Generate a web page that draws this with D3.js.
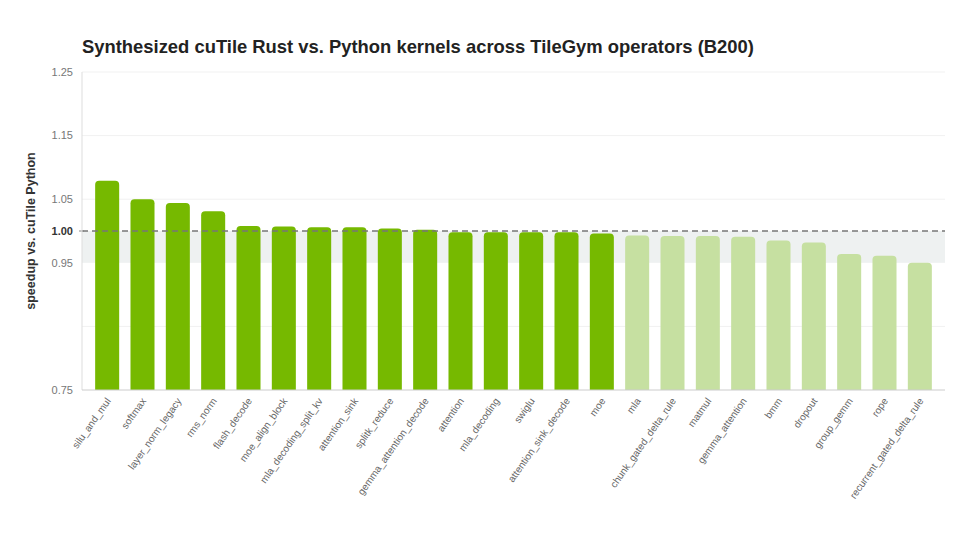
<!DOCTYPE html>
<html>
<head>
<meta charset="utf-8">
<script src="https://cdn.jsdelivr.net/npm/d3@7"></script>
<style>
  body { margin: 0; background: #fff; }
  svg { font-family: "Liberation Sans", Arial, sans-serif; }
</style>
</head>
<body>
<div id="chart"></div>
<script>
var operators = ['silu_and_mul', 'softmax', 'layer_norm_legacy', 'rms_norm', 'flash_decode',
    'moe_align_block', 'mla_decoding_split_kv', 'attention_sink', 'splitk_reduce',
    'gemma_attention_decode', 'attention', 'mla_decoding', 'swiglu', 'attention_sink_decode',
    'moe', 'mla', 'chunk_gated_delta_rule', 'matmul', 'gemma_attention', 'bmm', 'dropout',
    'group_gemm', 'rope', 'recurrent_gated_delta_rule'];
var speedup = [1.079, 1.050, 1.044, 1.031, 1.008, 1.007, 1.006, 1.006, 1.004,
    1.002, 0.998, 0.998, 0.998, 0.998, 0.996, 0.993, 0.992, 0.992, 0.991, 0.985,
    0.982, 0.964, 0.961, 0.950];
var labeledTicks = [0.75, 0.95, 1.00, 1.05, 1.15, 1.25];
var gridTicks = [0.85, 1.05, 1.15, 1.25];

var width = 960, height = 535;
var plotLeft = 82, plotRight = 945, plotTop = 72, plotBottom = 390;

var svg = d3.select('#chart').append('svg')
    .attr('width', width)
    .attr('height', height);

let x = d3.scaleBand()
    .domain(operators)
    .range([89.5, 937.5])
    .paddingInner(0.32)
    .paddingOuter(0.16);
let y = d3.scaleLinear()
    .domain([0.75, 1.25])
    .range([plotBottom, plotTop]);

svg.append('text')
    .attr('x', plotLeft)
    .attr('y', 53)
    .attr('font-size', 18.4)
    .attr('font-weight', 'bold')
    .attr('fill', '#222')
    .text('Synthesized cuTile Rust vs. Python kernels across TileGym operators (B200)');

// parity band
svg.append('rect')
    .attr('x', plotLeft)
    .attr('y', y(1.0))
    .attr('width', plotRight - plotLeft)
    .attr('height', y(0.95) - y(1.0))
    .attr('fill', '#eef1f1');

svg.selectAll('line.grid').data(gridTicks).enter()
    .append('line')
    .attr('class', 'grid')
    .attr('x1', plotLeft).attr('x2', plotRight)
    .attr('y1', d => y(d)).attr('y2', d => y(d))
    .attr('stroke', '#f1f1f1');

svg.selectAll('text.ytick').data(labeledTicks).enter()
    .append('text')
    .attr('class', 'ytick')
    .attr('x', 73)
    .attr('y', d => y(d))
    .attr('dy', '0.35em')
    .attr('text-anchor', 'end')
    .attr('font-size', 11)
    .attr('font-weight', d => d == 1 ? 'bold' : 'normal')
    .attr('fill', d => d == 1 ? '#333' : '#777')
    .text(d => d.toFixed(2));

svg.append('line')
    .attr('x1', plotLeft - 3).attr('x2', plotLeft + 2)
    .attr('y1', y(1)).attr('y2', y(1))
    .attr('stroke', '#888');

svg.append('text')
    .attr('transform', 'translate(35,' + ((plotTop + plotBottom) / 2) + ') rotate(-90)')
    .attr('text-anchor', 'middle')
    .attr('font-size', 12.5)
    .attr('font-weight', 'bold')
    .attr('fill', '#333')
    .text('speedup vs. cuTile Python');

// bars with rounded tops
let r = 4;
svg.selectAll('path.bar').data(operators).enter()
    .append('path')
    .attr('class', 'bar')
    .attr('fill', (d, i) => speedup[i] >= 0.995 ? '#76b900' : '#c6e0a1')
    .attr('d', (d, i) => {
        let x0 = x(d), w = x.bandwidth(), y0 = y(speedup[i]);
        return 'M' + x0 + ',' + plotBottom +
            'V' + (y0 + r) +
            'Q' + x0 + ',' + y0 + ' ' + (x0 + r) + ',' + y0 +
            'H' + (x0 + w - r) +
            'Q' + (x0 + w) + ',' + y0 + ' ' + (x0 + w) + ',' + (y0 + r) +
            'V' + plotBottom + 'Z';
    });

svg.append('line')
    .attr('x1', plotLeft).attr('x2', plotRight)
    .attr('y1', y(1)).attr('y2', y(1))
    .attr('stroke', '#777')
    .attr('stroke-width', 1.3)
    .attr('stroke-dasharray', '6,4');

// axes lines
svg.append('line')
    .attr('x1', plotLeft).attr('x2', plotLeft)
    .attr('y1', plotTop).attr('y2', plotBottom)
    .attr('stroke', '#ddd');
svg.append('line')
    .attr('x1', plotLeft).attr('x2', plotRight)
    .attr('y1', plotBottom).attr('y2', plotBottom)
    .attr('stroke', '#ccc');

svg.selectAll('text.xlab').data(operators).enter()
    .append('text')
    .attr('class', 'xlab')
    .attr('text-anchor', 'end')
    .attr('font-size', 10)
    .attr('fill', '#666')
    .attr('transform', d => 'translate(' + (x(d) + x.bandwidth() / 2 + 4) + ',' + 401 + ') rotate(-55)')
    .text(d => d);
</script>
</body>
</html>
